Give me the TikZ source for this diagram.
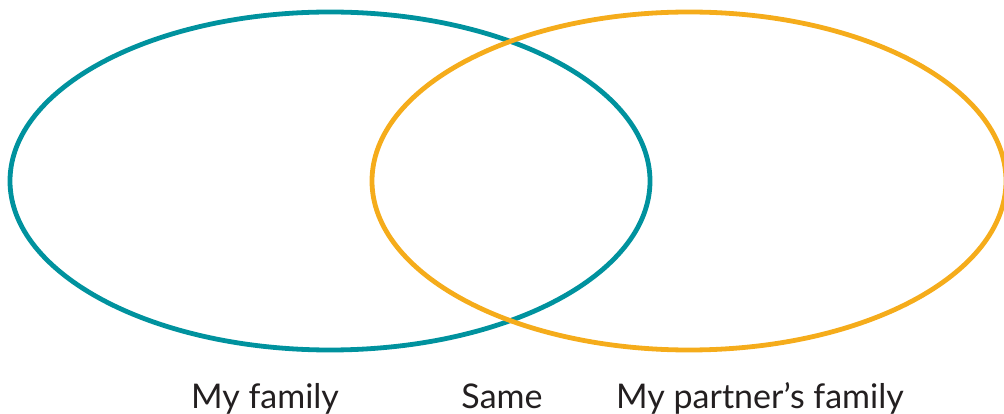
\documentclass[tikz,border=0pt]{standalone}
\usepackage{fontspec}
\setmainfont{Lato}
\definecolor{tealc}{RGB}{0,146,158}
\definecolor{orangec}{RGB}{245,172,27}
\definecolor{textc}{RGB}{35,31,32}
\begin{document}
\begin{tikzpicture}[x=1pt,y=-1pt,
  ring/.style={line width=4.8pt},
  lab/.style={text=textc,font=\fontsize{34}{40}\selectfont,anchor=base,inner sep=0pt}]
\useasboundingbox (0,0) rectangle (1004,414);
\begin{scope}
\clip (0,0) rectangle (1004,414);
\draw[ring,draw=tealc] (330,181) ellipse [x radius=320, y radius=169];
\draw[ring,draw=orangec] (689,181) ellipse [x radius=317, y radius=169];
\end{scope}
\node[lab] (mine) at (265,408) {My family};
\node[lab] (same) at (502,408) {Same};
\node[lab] (partner) at (760,408) {My partner’s family};
\end{tikzpicture}
\end{document}
